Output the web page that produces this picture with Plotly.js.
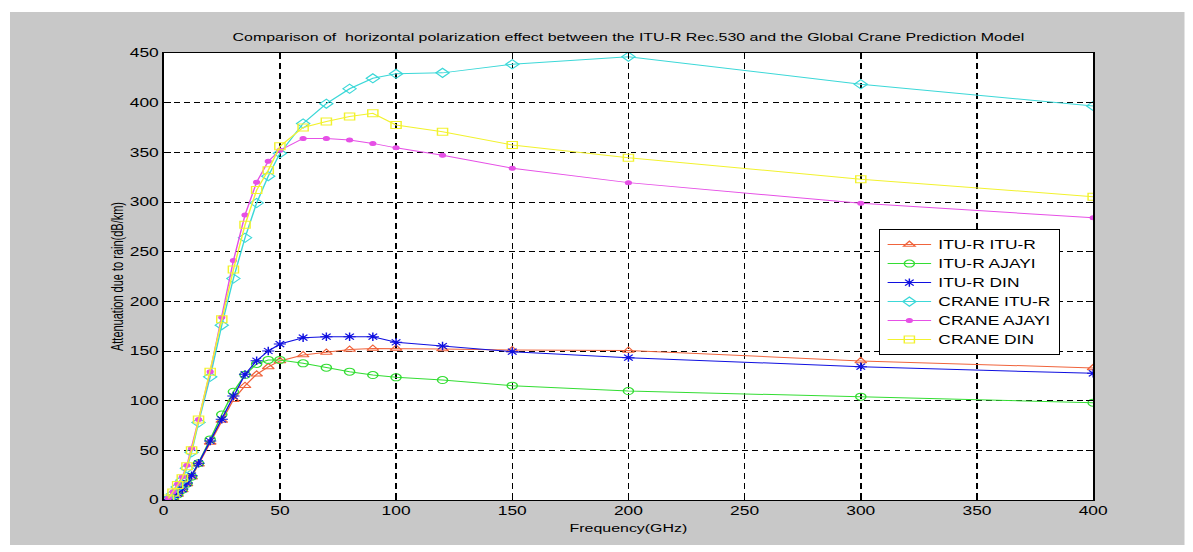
<!DOCTYPE html>
<html>
<head>
<meta charset="utf-8">
<script src="https://cdn.plot.ly/plotly-3.0.1.min.js"></script>
<style>
  html, body { margin: 0; padding: 0; background: #ffffff; width: 1193px; height: 552px; overflow: hidden; }
  #chart { position: absolute; left: 10px; top: 12px; width: 810px; height: 533px;
           transform: scaleX(1.45); transform-origin: 0 0; }
</style>
</head>
<body>
<div id="chart"></div>
<script>
// Frequencies (GHz)
const freq = [2, 4, 6, 8, 10, 12, 15, 20, 25, 30, 35, 40, 45, 50, 60, 70, 80, 90, 100, 120, 150, 200, 300, 400];

// Attenuation due to rain (dB/km)
const ituItu   = [0.4, 2.2, 5.5, 10, 16, 23, 36, 58, 80, 101, 115, 126.5, 134, 140, 146, 148.5, 151.5, 152.5, 152.5, 152, 151, 150.5, 140, 133];
const ituAjayi = [0.5, 2.2, 5.5, 10.5, 16.5, 23.5, 37, 61, 86, 109, 126, 137, 141, 141, 137.6, 133.2, 129.2, 125.8, 123.5, 120.8, 115.1, 109.7, 104, 98];
const ituDin   = [0.5, 2.5, 6.7, 11, 17, 24.5, 37, 59.4, 81.2, 104.7, 126.5, 140.2, 150, 157, 163.4, 164.4, 164.4, 164.4, 158.8, 155, 149.3, 143.3, 134.2, 127.5];
const craneItu   = [1, 6, 13, 20, 32, 48, 78, 124, 176, 223, 264, 299, 326, 349, 379, 399, 414, 424.5, 429, 430, 438.6, 446.3, 418.5, 396.7];
const craneAjayi = [1.7, 8.4, 16, 23.5, 35, 52, 81, 129, 184, 241, 287, 320, 341, 352, 364, 364, 362.4, 359, 354.5, 347, 334, 319.5, 298.7, 284.2];
const craneDin   = [1.5, 7.5, 15, 22, 34, 50, 81, 129, 182, 232, 277, 312, 332, 356, 375, 381, 386, 389.3, 377.5, 370.8, 357.4, 344.6, 322.9, 305.4];

const seriesNames = ['ITU-R ITU-R', 'ITU-R AJAYI', 'ITU-R DIN', 'CRANE ITU-R', 'CRANE AJAYI', 'CRANE DIN'];
const seriesData = [ituItu, ituAjayi, ituDin, craneItu, craneAjayi, craneDin];
const colors  = ['#F0643C', '#33DD33', '#1010E0', '#3CD8D8', '#E650E6', '#F2F22E'];
const symbols = ['triangle-up-open', 'circle-open', 'asterisk-open', 'diamond-open', 'circle', 'square-open'];
const sizes   = [7, 7, 7, 7, 4, 7];

const FONT = 'Liberation Sans, Arial, sans-serif';

const traces = seriesData.map((ys, i) => ({
  type: 'scatter',
  mode: 'lines+markers',
  name: seriesNames[i],
  x: freq,
  y: ys,
  line: { color: colors[i], width: 1 },
  marker: { symbol: symbols[i], size: sizes[i], color: colors[i], line: { color: colors[i], width: 1 } }
}));

const axisCommon = {
  showline: true, linecolor: '#000', linewidth: 1, mirror: 'ticks',
  ticks: 'inside', ticklen: 5, tickcolor: '#000', tickwidth: 1,
  showgrid: true, gridcolor: '#000', gridwidth: 1,
  zeroline: false,
  tickfont: { family: FONT, size: 12, color: '#000' }
};

const layout = {
  width: 810, height: 533,
  paper_bgcolor: '#c8c8c8',
  plot_bgcolor: '#ffffff',
  margin: { l: 106, r: 63, t: 41, b: 45, pad: 0 },
  showlegend: true,
  title: {
    text: 'Comparison of  horizontal polarization effect between the ITU-R Rec.530 and the Global Crane Prediction Model',
    font: { family: FONT, size: 11, color: '#000' },
    x: 0.5, xref: 'paper', xanchor: 'center',
    y: 0.953, yref: 'container', yanchor: 'middle'
  },
  xaxis: Object.assign({}, axisCommon, {
    range: [0, 400], tick0: 0, dtick: 50, griddash: '6px,4px',
    title: { text: 'Frequency(GHz)', font: { family: FONT, size: 11, color: '#000' }, standoff: 6 }
  }),
  yaxis: Object.assign({}, axisCommon, {
    range: [0, 450], tick0: 0, dtick: 50, griddash: '4px,3px',
    title: { text: 'Attenuation due to rain(dB/km)', font: { family: FONT, size: 11, color: '#000' }, standoff: 1 }
  }),
  legend: {
    x: 0.7695, xanchor: 'left', y: 0.606, yanchor: 'top',
    bgcolor: '#ffffff', bordercolor: '#000', borderwidth: 1,
    font: { family: FONT, size: 12, color: '#000' },
    itemwidth: 30, tracegroupgap: 0
  }
};

Plotly.newPlot('chart', traces, layout, { displayModeBar: false, staticPlot: true });
</script>
</body>
</html>
